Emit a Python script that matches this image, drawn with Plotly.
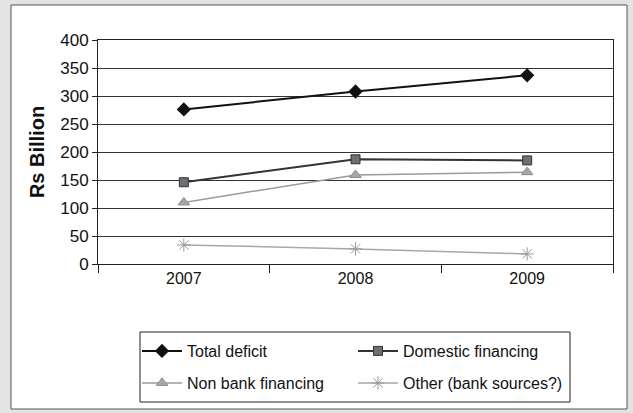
import plotly.graph_objects as go

years = ["2007", "2008", "2009"]
total_deficit = [276, 308, 337]
domestic_financing = [146, 187, 185]
non_bank_financing = [110, 159, 164]
other_bank = [34, 27, 18]
y_ticks = [0, 50, 100, 150, 200, 250, 300, 350, 400]

W, H = 633, 413
L, R, T, B = 98, 20, 40, 149
pw, ph = W - L - R, H - T - B

def px_x(x):
    return (x - L) / pw

def px_y(y):
    return (H - B - y) / ph

FONT = "Arial, 'Liberation Sans', sans-serif"

fig = go.Figure()
fig.add_trace(go.Scatter(x=years, y=total_deficit, name="Total deficit", mode="lines+markers",
                         line=dict(color="#111111", width=2), legend="legend",
                         marker=dict(symbol="diamond", size=11, color="#111111")))
fig.add_trace(go.Scatter(x=years, y=domestic_financing, name="Domestic financing", mode="lines+markers",
                         line=dict(color="#333333", width=2), legend="legend",
                         marker=dict(symbol="square", size=9, color="#6e6e78", line=dict(color="#333333", width=1))))
fig.add_trace(go.Scatter(x=years, y=non_bank_financing, name="Non bank financing", mode="lines+markers",
                         line=dict(color="#9a9a9a", width=1.5), legend="legend2",
                         marker=dict(symbol="triangle-up", size=10, color="#a8a8a8", line=dict(color="#8a8a8a", width=1))))
fig.add_trace(go.Scatter(x=years, y=other_bank, name="Other (bank sources?)", mode="lines+markers",
                         line=dict(color="#a8a8a8", width=1.5), legend="legend2",
                         marker=dict(symbol="asterisk-open", size=11, color="#999999", line=dict(color="#999999", width=1))))

leg_common = dict(orientation="h", xanchor="left", yanchor="middle",
                  bgcolor="rgba(0,0,0,0)", borderwidth=0,
                  font=dict(family=FONT, size=16, color="#111111"),
                  entrywidth=161, entrywidthmode="pixels", itemwidth=40)

fig.update_layout(
    width=W, height=H,
    margin=dict(l=L, r=R, t=T, b=B),
    paper_bgcolor="#e3e3e3",
    plot_bgcolor="white",
    font=dict(family=FONT, color="#111111"),
    showlegend=True,
    legend=dict(x=px_x(137), y=px_y(351), **leg_common),
    legend2=dict(x=px_x(137), y=px_y(383), **leg_common),
    shapes=[dict(type="rect", xref="paper", yref="paper", layer="below",
                 x0=px_x(11), x1=px_x(627), y0=px_y(409), y1=px_y(5),
                 fillcolor="white", line=dict(color="#555555", width=1)),
            dict(type="rect", xref="paper", yref="paper", layer="below",
                 x0=px_x(140), x1=px_x(570), y0=px_y(402), y1=px_y(332),
                 fillcolor="white", line=dict(color="#222222", width=1))],
)
fig.update_xaxes(type="category", range=[-0.5, 2.5], tickson="boundaries", ticks="outside", ticklen=8,
                 tickcolor="#222222", showline=True, mirror=True, linecolor="#222222", linewidth=1,
                 showgrid=False, tickfont=dict(family=FONT, size=16, color="#111111"), fixedrange=True)
fig.update_yaxes(range=[0, 400], tickvals=y_ticks, ticks="outside", ticklen=5, tickcolor="#222222",
                 showline=True, mirror=True, linecolor="#222222", linewidth=1,
                 showgrid=True, gridcolor="#333333", gridwidth=1, zeroline=False,
                 tickfont=dict(family=FONT, size=17, color="#111111"),
                 title=dict(text="<b>Rs Billion</b>", font=dict(family=FONT, size=20, color="#111111"), standoff=10))

fig.write_html("out.html", config={"displayModeBar": False},
               post_script="document.body.style.margin='0';")
